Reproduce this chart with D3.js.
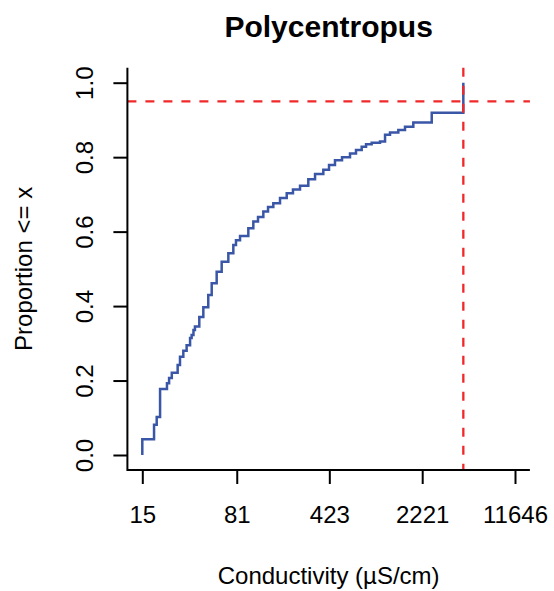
<!DOCTYPE html>
<html>
<head>
<meta charset="utf-8">
<script src="https://cdn.jsdelivr.net/npm/d3@7"></script>
<style>
html,body{margin:0;padding:0;background:#fff;}
svg{display:block;}
text{font-family:"Liberation Sans",Arial,Helvetica,sans-serif;fill:#000;}
</style>
</head>
<body>
<svg id="chart" width="554" height="591"></svg>
<script>
// ECDF of conductivity (µS/cm) for Polycentropus
const conductivity = [15, 18.5, 19.4, 20.6, 23.3, 24.2, 25.4, 28.2, 29.4, 31.2, 33.1, 35.2, 36.2, 37.4, 38.4, 41.5, 44.6, 48.7, 51.8, 56.6, 61.9, 69.7, 76.2, 79.9, 85.9, 99.6, 108.9, 118.4, 130.2, 141.6, 155.6, 175.4, 197.7, 221, 250.7, 290.7, 327.8, 380, 420.8, 468, 530.7, 612, 681, 754, 815, 901, 1046, 1144, 1250, 1450, 1634, 1895, 2633, 4629];
const proportion = [0.042, 0.081, 0.102, 0.177, 0.193, 0.207, 0.221, 0.242, 0.264, 0.280, 0.295, 0.314, 0.322, 0.336, 0.345, 0.371, 0.397, 0.430, 0.461, 0.492, 0.519, 0.542, 0.564, 0.577, 0.588, 0.609, 0.627, 0.639, 0.654, 0.666, 0.676, 0.690, 0.703, 0.713, 0.723, 0.741, 0.755, 0.766, 0.779, 0.792, 0.800, 0.810, 0.819, 0.828, 0.835, 0.839, 0.842, 0.860, 0.866, 0.873, 0.882, 0.893, 0.919, 1.0];
const xTicks = [15, 81, 423, 2221, 11646];
const yTicks = [0, 0.2, 0.4, 0.6, 0.8, 1.0];
const q95 = 4629;
const p95 = 0.95;
const title = "Polycentropus";
const xLabel = "Conductivity (µS/cm)";
const yLabel = "Proportion <= x";

(function () {
const svg = d3.select("#chart");
const x = d3.scaleLog().domain([15, 11646]).range([142.3, 515]);
const y = d3.scaleLinear().domain([0, 1]).range([455, 82.7]);
const pL = 127.4, pR = 529.9, pT = 67.8, pB = 470;

// ECDF step line
const pts = [[conductivity[0], 0]].concat(conductivity.map((c, i) => [c, proportion[i]]));
const line = d3.line().x(d => x(d[0])).y(d => y(d[1])).curve(d3.curveStepAfter);
svg.append("path").attr("d", line(pts))
  .attr("fill", "none").attr("stroke", "#3A56A6").attr("stroke-width", 2.5);

// reference lines
svg.append("line").attr("x1", pL).attr("x2", pR).attr("y1", y(p95)).attr("y2", y(p95))
  .attr("stroke", "#F0282A").attr("stroke-width", 2.3).attr("stroke-dasharray", "9,9");
svg.append("line").attr("x1", x(q95)).attr("x2", x(q95)).attr("y1", pT).attr("y2", pB)
  .attr("stroke", "#F0282A").attr("stroke-width", 2.3).attr("stroke-dasharray", "9,9");

// L box
svg.append("path").attr("d", `M${pL},${pT}V${pB}H${pR}`)
  .attr("fill", "none").attr("stroke", "#000").attr("stroke-width", 2);

// x axis
const gx = svg.append("g").attr("transform", `translate(0,${pB})`)
  .call(d3.axisBottom(x).tickValues(xTicks).tickFormat(d3.format("d")).tickSize(14).tickPadding(22));
gx.select(".domain").remove();
gx.selectAll(".tick line").attr("stroke", "#000").attr("stroke-width", 2);
gx.selectAll(".tick text").attr("font-size", 24).attr("font-family", "Liberation Sans, Arial, sans-serif");

// y axis
const gy = svg.append("g").attr("transform", `translate(${pL},0)`)
  .call(d3.axisLeft(y).tickValues(yTicks).tickFormat(d3.format(".1f")).tickSize(14));
gy.select(".domain").remove();
gy.selectAll(".tick line").attr("stroke", "#000").attr("stroke-width", 2);
gy.selectAll(".tick text").attr("font-size", 24).attr("font-family", "Liberation Sans, Arial, sans-serif")
  .attr("transform", "rotate(-90)").attr("x", 0).attr("y", -34.4).attr("dy", 0)
  .attr("text-anchor", "middle");

// titles
svg.append("text").attr("x", (pL + pR) / 2).attr("y", 37).attr("text-anchor", "middle")
  .attr("font-size", 30).attr("font-weight", "bold").text(title);
svg.append("text").attr("x", (pL + pR) / 2).attr("y", 584).attr("text-anchor", "middle")
  .attr("font-size", 24).text(xLabel);
svg.append("text").attr("transform", `translate(32,${(pT + pB) / 2}) rotate(-90)`)
  .attr("text-anchor", "middle").attr("font-size", 24).text(yLabel);
})();
</script>
</body>
</html>
